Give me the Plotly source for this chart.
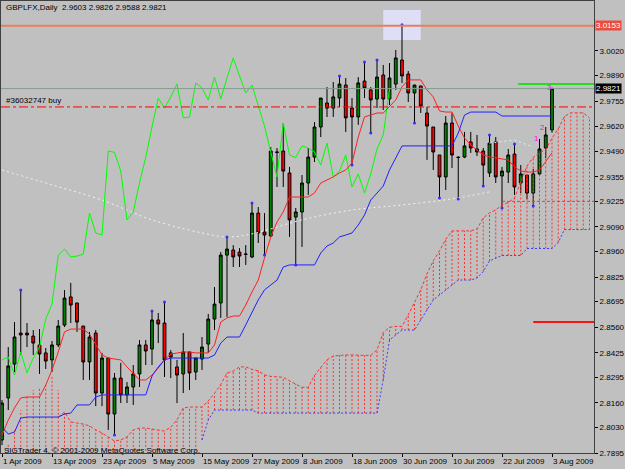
import plotly.graph_objects as go

# ---------------- data (daily bars, 1 Apr 2009 .. 3 Aug 2009) ----------------
opens = [2.7964, 2.8186, 2.8365, 2.8529, 2.8529, 2.8513, 2.8466, 2.8424, 2.8387, 2.8466,
         2.8571, 2.8720, 2.8688, 2.8566, 2.8376, 2.8529, 2.8212, 2.8397, 2.8101, 2.8291,
         2.8202, 2.8244, 2.8313, 2.8466, 2.8445, 2.8598, 2.8582, 2.8424, 2.8350, 2.8313,
         2.8429, 2.8323, 2.8392, 2.8471, 2.8603, 2.8688, 2.8941, 2.8968, 2.8957, 2.8947,
         2.8931, 2.9163, 2.9063, 2.9042, 2.9486, 2.9491, 2.9375, 2.9142, 2.9169, 2.9322,
         2.9459, 2.9618, 2.9745, 2.9718, 2.9771, 2.9840, 2.9718, 2.9671, 2.9861, 2.9814,
         2.9766, 2.9893, 2.9766, 2.9845, 2.9972, 2.9898, 2.9798, 2.9835, 2.9692, 2.9618,
         2.9470, 2.9354, 2.9639, 2.9459, 2.9459, 2.9539, 2.9502, 2.9491, 2.9375, 2.9539,
         2.9359, 2.9380, 2.9475, 2.9322, 2.9364, 2.9269, 2.9370, 2.9507, 2.9603]
highs = [2.8175, 2.8455, 2.8587, 2.8756, 2.8582, 2.8545, 2.8550, 2.8450, 2.8487, 2.8598,
         2.8756, 2.8794, 2.8688, 2.8566, 2.8535, 2.8545, 2.8424, 2.8397, 2.8318, 2.8371,
         2.8270, 2.8360, 2.8492, 2.8492, 2.8645, 2.8635, 2.8693, 2.8439, 2.8387, 2.8529,
         2.8429, 2.8397, 2.8508, 2.8630, 2.8772, 2.8957, 2.9037, 2.8994, 2.8978, 2.8994,
         2.9216, 2.9195, 2.9163, 2.9512, 2.9507, 2.9639, 2.9407, 2.9190, 2.9364, 2.9507,
         2.9644, 2.9771, 2.9829, 2.9856, 2.9888, 2.9877, 2.9771, 2.9882, 2.9962, 2.9829,
         2.9972, 2.9946, 2.9956, 3.0025, 3.0158, 2.9914, 2.9840, 2.9835, 2.9724, 2.9618,
         2.9470, 2.9676, 2.9692, 2.9462, 2.9592, 2.9592, 2.9576, 2.9507, 2.9576, 2.9565,
         2.9407, 2.9502, 2.9528, 2.9417, 2.9364, 2.9396, 2.9555, 2.9618, 2.9826]
lows = [2.7937, 2.8122, 2.8323, 2.8413, 2.8455, 2.8413, 2.8313, 2.8339, 2.8323, 2.8455,
        2.8561, 2.8582, 2.8535, 2.8281, 2.8281, 2.8143, 2.8143, 2.8017, 2.7990, 2.8159,
        2.8159, 2.8149, 2.8244, 2.8360, 2.8360, 2.8476, 2.8297, 2.8291, 2.8159, 2.8212,
        2.8228, 2.8281, 2.8334, 2.8424, 2.8545, 2.8609, 2.8614, 2.8878, 2.8878, 2.8889,
        2.8925, 2.9005, 2.8941, 2.9037, 2.9301, 2.9301, 2.9037, 2.8889, 2.8984, 2.9259,
        2.9433, 2.9565, 2.9671, 2.9671, 2.9724, 2.9592, 2.9417, 2.9629, 2.9771, 2.9586,
        2.9718, 2.9708, 2.9734, 2.9814, 2.9851, 2.9750, 2.9639, 2.9692, 2.9444, 2.9391,
        2.9243, 2.9285, 2.9401, 2.9237, 2.9454, 2.9481, 2.9465, 2.9306, 2.9354, 2.9322,
        2.9190, 2.9322, 2.9259, 2.9269, 2.9237, 2.9200, 2.9364, 2.9454, 2.9588]
closes = [2.8159, 2.8355, 2.8508, 2.8519, 2.8519, 2.8476, 2.8418, 2.8381, 2.8466, 2.8566,
          2.8714, 2.8677, 2.8587, 2.8376, 2.8508, 2.8212, 2.8397, 2.8101, 2.8291, 2.8202,
          2.8244, 2.8313, 2.8466, 2.8434, 2.8598, 2.8577, 2.8387, 2.8402, 2.8307, 2.8429,
          2.8318, 2.8397, 2.8455, 2.8603, 2.8682, 2.8941, 2.8973, 2.8931, 2.8936, 2.8945,
          2.9163, 2.9058, 2.9047, 2.9491, 2.9484, 2.9385, 2.9127, 2.9169, 2.9322, 2.9459,
          2.9618, 2.9771, 2.9718, 2.9777, 2.9845, 2.9666, 2.9671, 2.9851, 2.9824, 2.9761,
          2.9882, 2.9766, 2.9877, 2.9983, 2.9888, 2.9798, 2.9840, 2.9729, 2.9623, 2.9486,
          2.9354, 2.9639, 2.9470, 2.9457, 2.9518, 2.9507, 2.9486, 2.9417, 2.9533, 2.9354,
          2.9385, 2.9470, 2.9301, 2.9370, 2.9269, 2.9370, 2.9502, 2.9576, 2.9821]

# Ichimoku lines
tenkan = [2.7990, 2.8069, 2.8133, 2.8186, 2.8191, 2.8191, 2.8191, 2.8254, 2.8334, 2.8429,
          2.8535, 2.8550, 2.8550, 2.8550, 2.8524, 2.8466, 2.8413, 2.8397, 2.8392, 2.8387,
          2.8350, 2.8318, 2.8281, 2.8281, 2.8307, 2.8344, 2.8387, 2.8418, 2.8424, 2.8429,
          2.8429, 2.8424, 2.8424, 2.8424, 2.8466, 2.8587, 2.8609, 2.8619, 2.8619, 2.8677,
          2.8746, 2.8809, 2.8926, 2.9037, 2.9116, 2.9169, 2.9248, 2.9248, 2.9248, 2.9248,
          2.9269, 2.9322, 2.9338, 2.9354, 2.9375, 2.9391, 2.9428, 2.9565, 2.9671, 2.9681,
          2.9692, 2.9692, 2.9724, 2.9761, 2.9830, 2.9867, 2.9867, 2.9867, 2.9814, 2.9777,
          2.9703, 2.9697, 2.9697, 2.9623, 2.9560, 2.9523, 2.9496, 2.9470, 2.9460, 2.9454,
          2.9449, 2.9444, 2.9407, 2.9386, 2.9380, 2.9380, 2.9391, 2.9433, 2.9481]
kijun = [2.8032, 2.7995, 2.8006, 2.8080, 2.8085, 2.8085, 2.8085, 2.8085, 2.8085, 2.8085,
         2.8101, 2.8106, 2.8149, 2.8149, 2.8149, 2.8191, 2.8202, 2.8202, 2.8202, 2.8202,
         2.8202, 2.8202, 2.8202, 2.8202, 2.8302, 2.8350, 2.8387, 2.8397, 2.8397, 2.8397,
         2.8397, 2.8397, 2.8397, 2.8397, 2.8413, 2.8476, 2.8508, 2.8508, 2.8508, 2.8572,
         2.8640, 2.8704, 2.8757, 2.8783, 2.8809, 2.8878, 2.8889, 2.8889, 2.8889, 2.8889,
         2.8889, 2.8952, 2.8989, 2.9005, 2.9037, 2.9047, 2.9058, 2.9100, 2.9153, 2.9232,
         2.9269, 2.9306, 2.9391, 2.9454, 2.9518, 2.9518, 2.9518, 2.9518, 2.9518, 2.9518,
         2.9518, 2.9518, 2.9518, 2.9586, 2.9681, 2.9697, 2.9697, 2.9697, 2.9697, 2.9697,
         2.9676, 2.9676, 2.9676, 2.9676, 2.9676, 2.9676, 2.9676, 2.9676, 2.9676]
CHIKOU_SHIFT = 26

# Kumo (cloud), drawn 26 bars ahead: upper hatch edge for bars 0..25
kumo_top_early = [None, 2.7948, 2.8017, 2.8122, 2.8202, 2.8228, 2.8244, 2.8265, 2.8297, 2.8228,
                  2.8112, 2.8059, 2.8054, 2.8048, 2.8038, 2.8017, 2.8001, 2.7980, 2.7958, 2.7964,
                  2.7980, 2.8017, 2.8027, 2.8027, 2.8022, 2.8017]
span_a_early = [None] * 9 + [2.8085, 2.8112, 2.8059, 2.8054, 2.8048, 2.8038, 2.8017, 2.8001,
                             2.7980, 2.7958, 2.7964, 2.7980, 2.8017, 2.8027, 2.8027, 2.8022, 2.8017]
span_a = [2.8011, 2.8032, 2.8070, 2.8133, 2.8138, 2.8138, 2.8138, 2.8170, 2.8210, 2.8257,
          2.8318, 2.8328, 2.8350, 2.8350, 2.8337, 2.8329, 2.8308, 2.8300, 2.8297, 2.8295,
          2.8276, 2.8260, 2.8242, 2.8242, 2.8305, 2.8347, 2.8387, 2.8408, 2.8411, 2.8413,
          2.8413, 2.8411, 2.8411, 2.8411, 2.8440, 2.8532, 2.8559, 2.8564, 2.8564, 2.8625,
          2.8693, 2.8757, 2.8842, 2.8910, 2.8963, 2.9024, 2.9069, 2.9069, 2.9069, 2.9069,
          2.9079, 2.9137, 2.9164, 2.9180, 2.9206, 2.9219, 2.9243, 2.9333, 2.9412, 2.9457,
          2.9481, 2.9499, 2.9558, 2.9608, 2.9674, 2.9693, 2.9693, 2.9693, 2.9666]
SPAN_A_START = 26
span_b = [2.7964, 2.8069] + [2.8122] * 7 + [2.8106] * 20 + \
         [2.8281, 2.8492, 2.8519, 2.8545, 2.8545, 2.8545, 2.8598, 2.8651, 2.8704, 2.8730,
          2.8756, 2.8783, 2.8809, 2.8809, 2.8809, 2.8820, 2.8854, 2.8910, 2.8923] + \
         [2.8939] * 4 + [2.8976] * 5 + [2.9008] + [2.9076] * 5
SPAN_B_START = 32

# light dotted moving average and short cyan line
ma_bars = [0, 8, 16, 24, 32, 36, 40, 48, 56, 64, 72, 78]
ma_vals = [2.9391, 2.9312, 2.9232, 2.9127, 2.9058, 2.9037, 2.9053, 2.9127, 2.9179, 2.9206, 2.9238, 2.9275]
cyan_bars = [78, 82, 85]
cyan_vals = [2.9533, 2.9549, 2.9512]

fractal_up = [3, 24, 26, 36, 40, 54, 58, 60, 64, 78, 82]
fractal_dn = [18, 42, 47, 56, 59, 66, 70, 73, 77, 80, 85]

tick_bars = list(range(0, 89, 8))
tick_dates = ["1 Apr 2009", "13 Apr 2009", "23 Apr 2009", "5 May 2009", "15 May 2009",
              "27 May 2009", "8 Jun 2009", "18 Jun 2009", "30 Jun 2009", "10 Jul 2009",
              "22 Jul 2009", "3 Aug 2009"]
price_ticks = [3.0020, 2.9890, 2.9755, 2.9620, 2.9490, 2.9355, 2.9225, 2.9090, 2.8960,
               2.8825, 2.8695, 2.8560, 2.8425, 2.8295, 2.8160, 2.8030, 2.7895]

high_level = 3.0153
bid_level = 2.9821
order_level = 2.9724
tp_level = 2.9845
sl_level = 2.8587
kumo_dash_level = 2.9225
tp_start, sl_start, kumo_dash_start = 82.6, 85.0, 80.0
box_bars = (61.0, 67.0)
box_prices = (3.0078, 3.0236)

Y_MIN, Y_MAX = 2.7895, 3.0284
X_MIN, X_MAX = -0.16, 94.72

n = len(opens)
bars = list(range(n))

fig = go.Figure()

# ---- kumo hatch ----
hx, hy = [], []
for j, top in enumerate(kumo_top_early):
    if top is None:
        continue
    hx += [j, j, None]
    hy += [Y_MIN - 0.02, top, None]
for k, a in enumerate(span_a):
    j = SPAN_A_START + k
    b = span_b[j - SPAN_B_START] if j >= SPAN_B_START else None
    lo = min(a, b) if b is not None else Y_MIN - 0.02
    hi = max(a, b) if b is not None else a
    hx += [j, j, None]
    hy += [lo, hi, None]
fig.add_trace(go.Scatter(x=hx, y=hy, mode="lines", hoverinfo="skip",
                         line=dict(color="#ff3030", width=1, dash="2px,2px")))
# span A line
fig.add_trace(go.Scatter(x=list(range(len(span_a_early))) + [SPAN_A_START + k for k in range(len(span_a))],
                         y=span_a_early + span_a, mode="lines", connectgaps=False, hoverinfo="skip",
                         line=dict(color="#ff3030", width=1, dash="3px,2px")))
# span B line
fig.add_trace(go.Scatter(x=[SPAN_B_START + k for k in range(len(span_b))], y=span_b, mode="lines",
                         hoverinfo="skip", line=dict(color="#3b3bff", width=1, dash="2px,2px")))

# light moving average
fig.add_trace(go.Scatter(x=ma_bars, y=ma_vals, mode="lines", hoverinfo="skip",
                         line=dict(color="#f4f4f4", width=1, dash="2px,3px", shape="spline")))
fig.add_trace(go.Scatter(x=cyan_bars, y=cyan_vals, mode="lines", hoverinfo="skip",
                         line=dict(color="#c8ffff", width=1, dash="2px,3px")))

# candles
fig.add_trace(go.Candlestick(x=bars, open=opens, high=highs, low=lows, close=closes,
                             increasing=dict(fillcolor="#008000", line=dict(color="#000000", width=1)),
                             decreasing=dict(fillcolor="#ff0000", line=dict(color="#000000", width=1)),
                             whiskerwidth=0, hoverinfo="skip"))

# chikou, tenkan, kijun
fig.add_trace(go.Scatter(x=bars[:n - CHIKOU_SHIFT], y=closes[CHIKOU_SHIFT:], mode="lines",
                         hoverinfo="skip", line=dict(color="#00ff00", width=1)))
fig.add_trace(go.Scatter(x=bars, y=tenkan, mode="lines", hoverinfo="skip",
                         line=dict(color="#ff2020", width=1)))
fig.add_trace(go.Scatter(x=bars, y=kijun, mode="lines", hoverinfo="skip",
                         line=dict(color="#2020ff", width=1)))

# fractal dots
fig.add_trace(go.Scatter(x=fractal_up, y=[highs[i] for i in fractal_up], mode="markers", hoverinfo="skip",
                         marker=dict(color="#3030ff", size=3)))
fig.add_trace(go.Scatter(x=fractal_dn, y=[lows[i] for i in fractal_dn], mode="markers", hoverinfo="skip",
                         marker=dict(color="#3030ff", size=3)))

shapes = [
    dict(type="rect", xref="x", yref="y", x0=box_bars[0], x1=box_bars[1], y0=box_prices[0], y1=box_prices[1],
         fillcolor="#dedef6", line=dict(width=0), layer="below"),
    dict(type="line", xref="paper", yref="y", x0=0, x1=1, y0=high_level, y1=high_level,
         line=dict(color="#e5805e", width=2)),
    dict(type="line", xref="paper", yref="y", x0=0, x1=1, y0=bid_level, y1=bid_level,
         line=dict(color="#869c90", width=1)),
    dict(type="line", xref="paper", yref="y", x0=0, x1=1, y0=order_level, y1=order_level,
         line=dict(color="#ff0000", width=1, dash="dashdot")),
    dict(type="line", xref="x", yref="y", x0=tp_start, x1=X_MAX, y0=tp_level, y1=tp_level,
         line=dict(color="#22dd22", width=2)),
    dict(type="line", xref="x", yref="y", x0=sl_start, x1=X_MAX, y0=sl_level, y1=sl_level,
         line=dict(color="#ff1010", width=2)),
    dict(type="line", xref="x", yref="y", x0=kumo_dash_start, x1=X_MAX, y0=kumo_dash_level, y1=kumo_dash_level,
         line=dict(color="#ff3030", width=1, dash="3px,2px")),
]

font = "Liberation Sans, Arial, sans-serif"
annotations = [
    dict(xref="paper", yref="paper", x=0.005, y=0.9856, xanchor="left", yanchor="middle",
         text="GBPLFX,Daily&nbsp; 2.9603 2.9826 2.9588 2.9821", showarrow=False,
         font=dict(family=font, size=8, color="#000000")),
    dict(xref="paper", yref="y", x=0.005, y=order_level, xanchor="left", yanchor="bottom", yshift=0,
         text="#36032747 buy", showarrow=False, font=dict(family=font, size=8, color="#000000")),
    dict(xref="paper", yref="paper", x=0.002, y=0.006, xanchor="left", yanchor="middle",
         text="SIGTrader 4, © 2001-2009 MetaQuotes Software Corp.", showarrow=False,
         font=dict(family=font, size=8, color="#000000")),
    dict(xref="paper", yref="y", x=1, y=high_level, xanchor="left", yanchor="middle", xshift=1,
         text="3.0153", showarrow=False, bgcolor="#ec4c40", borderpad=0,
         font=dict(family=font, size=8, color="#ffffff")),
    dict(xref="paper", yref="y", x=1, y=bid_level, xanchor="left", yanchor="middle", xshift=1,
         text="2.9821", showarrow=False, bgcolor="#000000", borderpad=0,
         font=dict(family=font, size=8, color="#ffffff")),
]
for i, lab in zip([86, 87, 88], ["1", "2", "3"]):
    annotations.append(dict(x=i - 0.45, y=highs[i], xref="x", yref="y", text=lab, showarrow=False,
                            xanchor="center", yanchor="middle",
                            font=dict(family=font, size=8, color="#ff00ff")))
# date labels, left-aligned at their tick like the terminal does
for b, lab in zip(tick_bars, tick_dates):
    annotations.append(dict(x=b, y=0, xref="x", yref="paper", text=lab, showarrow=False,
                            xanchor="left", yanchor="top", yshift=-2, xshift=-1,
                            font=dict(family=font, size=8, color="#000000")))

fig.update_layout(
    width=625, height=469,
    margin=dict(l=1, r=31, t=1, b=16),
    paper_bgcolor="#c0c0c0", plot_bgcolor="#c0c0c0",
    showlegend=False, boxgap=0.35,
    shapes=shapes, annotations=annotations,
    font=dict(family=font, size=8, color="#000000"),
    xaxis=dict(range=[X_MIN, X_MAX], tickvals=tick_bars, showticklabels=False,
               ticks="outside", ticklen=3, tickcolor="#000000",
               showgrid=False, zeroline=False, showline=True, linecolor="#404040", linewidth=1,
               mirror=True, rangeslider=dict(visible=False), automargin=False),
    yaxis=dict(range=[Y_MIN, Y_MAX], side="right", tickvals=price_ticks,
               ticktext=["%.4f" % v for v in price_ticks],
               ticks="outside", ticklen=3, tickcolor="#000000",
               showgrid=False, zeroline=False, showline=True, linecolor="#404040", linewidth=1,
               mirror=True, automargin=False,
               tickfont=dict(family=font, size=8, color="#000000")),
)

fig.write_html("out.html")
